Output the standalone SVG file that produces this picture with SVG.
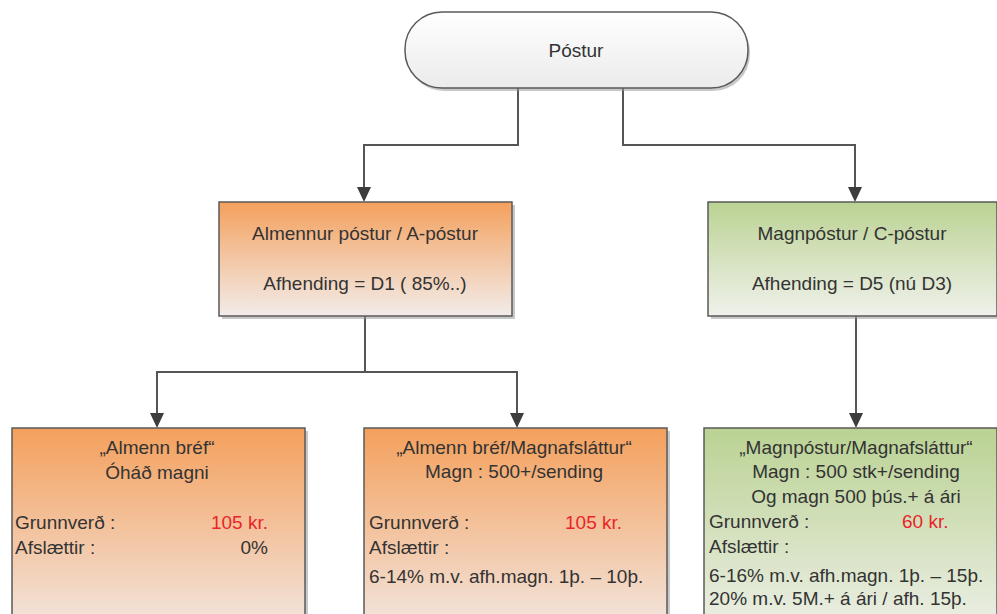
<svg xmlns="http://www.w3.org/2000/svg" width="997" height="614" viewBox="0 0 997 614">
<style>
text{font-family:"Liberation Sans",Arial,sans-serif;font-size:19px;fill:#333333}
.c{text-anchor:middle}
.r{text-anchor:end}
.red{fill:#e8262a}
.box{stroke:#5a5a5a;stroke-width:1.5}
.sh{fill:#9a9a9a;opacity:0.55}
.ln{fill:none;stroke:#555;stroke-width:2}
.ah{fill:#3d3d3d}
</style>
<defs>
<linearGradient id="gw" x1="0" y1="0" x2="0" y2="1"><stop offset="0" stop-color="#ffffff"/><stop offset="1" stop-color="#ebebeb"/></linearGradient>
<linearGradient id="go" x1="0" y1="0" x2="0" y2="1"><stop offset="0" stop-color="#f4a05c"/><stop offset="0.45" stop-color="#f3c39e"/><stop offset="1" stop-color="#f2ece9"/></linearGradient>
<linearGradient id="gg" x1="0" y1="0" x2="0" y2="1"><stop offset="0" stop-color="#bad293"/><stop offset="0.5" stop-color="#d6e2bf"/><stop offset="1" stop-color="#eff1eb"/></linearGradient>
<linearGradient id="go2" x1="0" y1="0" x2="0" y2="1"><stop offset="0" stop-color="#f4a05c"/><stop offset="0.6" stop-color="#f3c9aa"/><stop offset="1" stop-color="#f2e6df"/></linearGradient>
<linearGradient id="gg2" x1="0" y1="0" x2="0" y2="1"><stop offset="0" stop-color="#bad293"/><stop offset="0.6" stop-color="#d8e3c4"/><stop offset="1" stop-color="#ecefe6"/></linearGradient>
</defs>
<g id="connectors">
<path class="ln" d="M518,88 V145 H364 V188"/>
<path class="ah" d="M357,187 L371,187 L364,202 Z"/>
<path class="ln" d="M623,88 V145 H855 V188"/>
<path class="ah" d="M848,187 L862,187 L855,202 Z"/>
<path class="ln" d="M365,316 V372 H157 V414"/>
<path class="ln" d="M365,372 H517 V414"/>
<path class="ah" d="M150,413 L164,413 L157,428 Z"/>
<path class="ah" d="M510,413 L524,413 L517,428 Z"/>
<path class="ln" d="M856,316 V414"/>
<path class="ah" d="M849,413 L863,413 L856,428 Z"/>
</g>
<g id="postur">
<rect class="sh" x="407" y="15" width="343" height="76" rx="37" ry="37"/>
<rect class="box" x="405" y="12" width="343" height="76" rx="37" ry="37" fill="url(#gw)"/>
<text class="c" x="576" y="57">Póstur</text>
</g>
<g id="a-postur">
<rect class="sh" x="222" y="205" width="293" height="114"/>
<rect class="box" x="219" y="202" width="293" height="114" fill="url(#go)"/>
<text class="c" x="365" y="240">Almennur póstur / A-póstur</text>
<text class="c" x="365" y="290">Afhending = D1 ( 85%..)</text>
</g>
<g id="c-postur">
<rect class="sh" x="711" y="205" width="290" height="114"/>
<rect class="box" x="708" y="202" width="289" height="114" fill="url(#gg)"/>
<text class="c" x="852" y="240">Magnpóstur / C-póstur</text>
<text class="c" x="852" y="290">Afhending = D5 (nú D3)</text>
</g>
<g id="almenn-bref">
<rect class="sh" x="15" y="431" width="293" height="200"/>
<rect class="box" x="12" y="428" width="293" height="200" fill="url(#go2)"/>
<text class="c" x="157" y="454">„Almenn bréf“</text>
<text class="c" x="157" y="479">Óháð magni</text>
<text x="15" y="529">Grunnverð :</text>
<text class="r red" x="268" y="529">105 kr.</text>
<text x="15" y="554">Afslættir :</text>
<text class="r" x="268" y="554">0%</text>
</g>
<g id="almenn-magn">
<rect class="sh" x="367" y="431" width="303" height="200"/>
<rect class="box" x="364" y="428" width="303" height="200" fill="url(#go2)"/>
<text class="c" x="514" y="454">„Almenn bréf/Magnafsláttur“</text>
<text class="c" x="514" y="478">Magn : 500+/sending</text>
<text x="369" y="529">Grunnverð :</text>
<text class="red" x="565" y="529">105 kr.</text>
<text x="369" y="554">Afslættir :</text>
<text x="369" y="583">6-14% m.v. afh.magn. 1þ. – 10þ.</text>
</g>
<g id="magnpostur">
<rect class="sh" x="707" y="431" width="293" height="200"/>
<rect class="box" x="704" y="428" width="293" height="200" fill="url(#gg2)"/>
<text class="c" x="856" y="454">„Magnpóstur/Magnafsláttur“</text>
<text class="c" x="856" y="478">Magn : 500 stk+/sending</text>
<text class="c" x="856" y="503">Og magn 500 þús.+ á ári</text>
<text x="709" y="528">Grunnverð :</text>
<text class="red" x="902" y="528">60 kr.</text>
<text x="709" y="553">Afslættir :</text>
<text x="709" y="582">6-16% m.v. afh.magn. 1þ. – 15þ.</text>
<text x="709" y="605">20% m.v. 5M.+ á ári / afh. 15þ.</text>
</g>
</svg>
